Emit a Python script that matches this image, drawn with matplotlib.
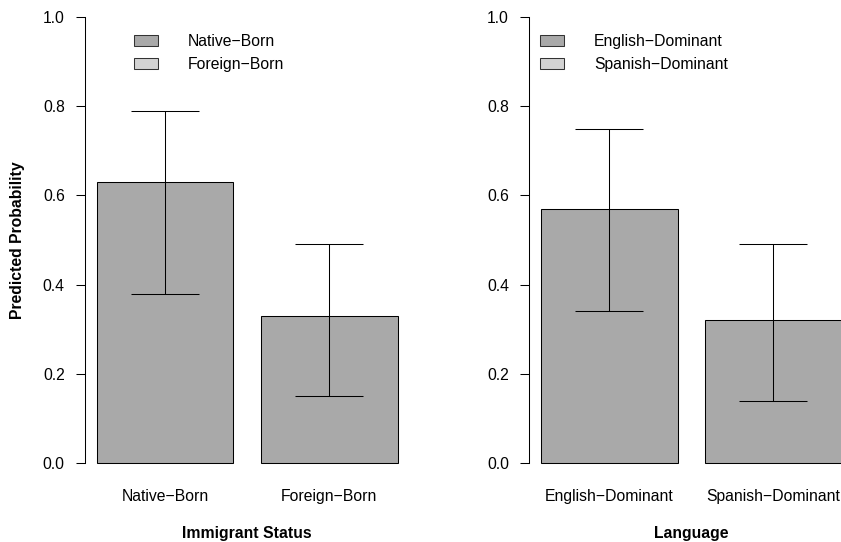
import matplotlib.pyplot as plt
from matplotlib.patches import Patch

# --- データ ---
immig_groups = ["Native\u2212Born", "Foreign\u2212Born"]
immig_prob = [0.63, 0.33]
immig_lo = [0.38, 0.15]
immig_hi = [0.79, 0.49]

lang_groups = ["English\u2212Dominant", "Spanish\u2212Dominant"]
lang_prob = [0.57, 0.32]
lang_lo = [0.34, 0.14]
lang_hi = [0.75, 0.49]

yticks = [0.0, 0.2, 0.4, 0.6, 0.8, 1.0]
bar_color = "#A9A9A9"
legend_colors = ["#A9A9A9", "#D3D3D3"]

plt.rcParams['font.family'] = ['Liberation Sans', 'DejaVu Sans']
FS = 11.3


def draw_panel(ax, groups, prob, lo, hi, xlabel, legend_anchor, ylabel=None):
    """R の barplot 風のパネルを描く"""
    # R の barplot: 幅 1, 間隔 0.2 -> 中心 0.7, 1.9
    centers = [0.7 + 1.2 * i for i in range(len(groups))]
    ax.bar(centers, prob, width=1.0, color=bar_color, edgecolor="black",
           linewidth=0.75, zorder=2)
    # エラーバー（キャップ幅は棒の半分）
    ax.vlines(centers, lo, hi, color="black", linewidth=0.75, zorder=3)
    ax.hlines(lo, [c - 0.25 for c in centers], [c + 0.25 for c in centers],
              color="black", linewidth=0.75, zorder=3)
    ax.hlines(hi, [c - 0.25 for c in centers], [c + 0.25 for c in centers],
              color="black", linewidth=0.75, zorder=3)

    ax.set_xlim(0.112, 2.488)
    ax.set_ylim(-0.04, 1.04)
    ax.set_yticks(yticks)
    ax.set_yticklabels([f"{t:.1f}" for t in yticks], fontsize=FS)
    ax.set_xticks(centers)
    ax.set_xticklabels(groups, fontsize=FS)
    ax.tick_params(axis="x", length=0, pad=6)
    ax.tick_params(axis="y", length=6.8, width=0.75, pad=7.5)

    for s in ["top", "right", "bottom"]:
        ax.spines[s].set_visible(False)
    ax.spines["left"].set_bounds(0, 1)
    ax.spines["left"].set_linewidth(0.75)

    ax.set_xlabel(xlabel, fontsize=FS, fontweight="bold", labelpad=16)
    if ylabel:
        ax.set_ylabel(ylabel, fontsize=FS, fontweight="bold", labelpad=13)

    handles = [Patch(facecolor=c, edgecolor="#333333", linewidth=0.75)
               for c in legend_colors]
    ax.legend(handles, groups, loc="upper left", bbox_to_anchor=legend_anchor,
              bbox_transform=ax.figure.transFigure, frameon=False, fontsize=FS,
              handlelength=1.53, handleheight=0.70, handletextpad=1.91,
              labelspacing=0.49, borderpad=0, borderaxespad=0)


fig = plt.figure(figsize=(8.41, 5.42), dpi=100)
ax1 = fig.add_axes([0.1007, 0.1129, 0.3864, 0.8886])
ax2 = fig.add_axes([0.6287, 0.1129, 0.3864, 0.8886])

draw_panel(ax1, immig_groups, immig_prob, immig_lo, immig_hi,
           "Immigrant Status", (0.1593, 0.937), ylabel="Predicted Probability")
draw_panel(ax2, lang_groups, lang_prob, lang_lo, lang_hi,
           "Language", (0.642, 0.937))

fig.savefig("out.png", dpi=100)
